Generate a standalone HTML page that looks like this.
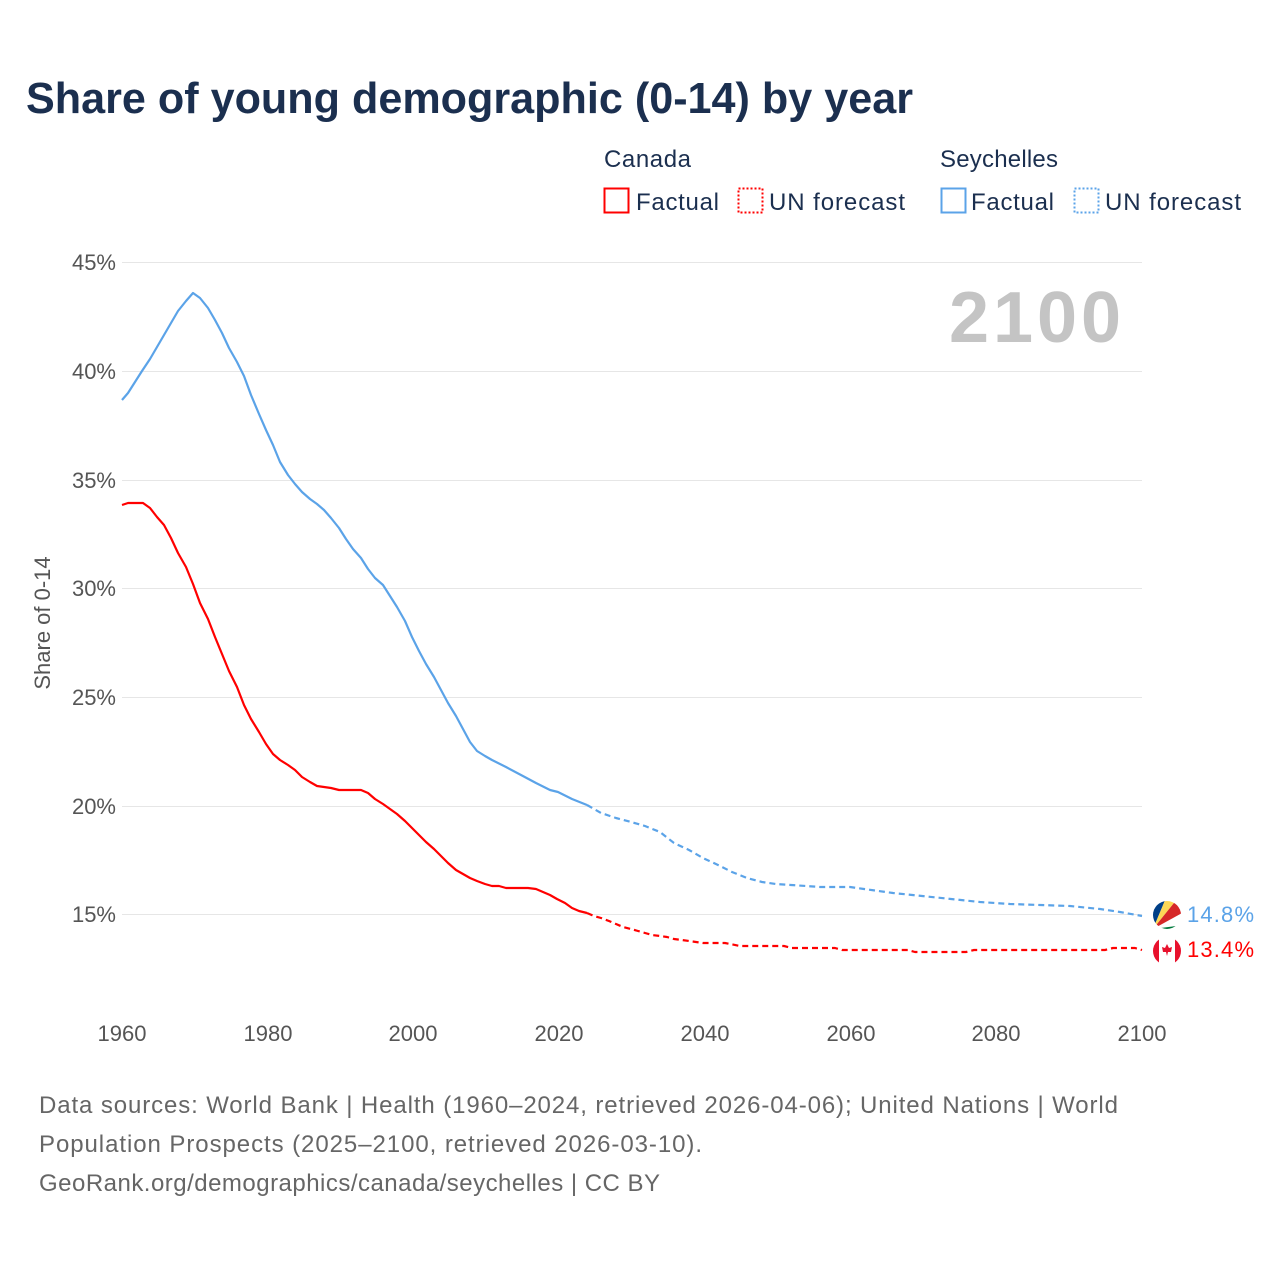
<!DOCTYPE html>
<html><head><meta charset="utf-8"><style>
body{margin:0;background:#fff;font-family:"Liberation Sans",sans-serif;}
</style></head><body>
<svg width="1280" height="1280" xmlns="http://www.w3.org/2000/svg" font-family="Liberation Sans, sans-serif">
<rect width="1280" height="1280" fill="#fff"/>
<text x="26" y="113" font-size="44" font-weight="bold" fill="#1b2f4f" textLength="887" lengthAdjust="spacingAndGlyphs">Share of young demographic (0-14) by year</text>
<g font-size="24" fill="#1b2f4f">
<text x="604" y="167" textLength="87">Canada</text>
<text x="940" y="167" textLength="118">Seychelles</text>
<rect x="604.5" y="188.5" width="24" height="24" fill="none" stroke="#f00" stroke-width="2"/>
<text x="636" y="210" textLength="83">Factual</text>
<rect x="738.5" y="188.5" width="24" height="24" fill="none" stroke="#f00" stroke-width="2" stroke-dasharray="2,2"/>
<text x="769" y="210" textLength="136">UN forecast</text>
<rect x="941.5" y="188.5" width="24" height="24" fill="none" stroke="#5ba3e8" stroke-width="2"/>
<text x="971" y="210" textLength="83">Factual</text>
<rect x="1074.5" y="188.5" width="24" height="24" fill="none" stroke="#5ba3e8" stroke-width="2" stroke-dasharray="2,2"/>
<text x="1105" y="210" textLength="136">UN forecast</text>
</g>
<g stroke="#e6e6e6" stroke-width="1">
<line x1="122" x2="1142" y1="262.5" y2="262.5"/><line x1="122" x2="1142" y1="371.5" y2="371.5"/>
<line x1="122" x2="1142" y1="480.5" y2="480.5"/><line x1="122" x2="1142" y1="588.5" y2="588.5"/>
<line x1="122" x2="1142" y1="697.5" y2="697.5"/><line x1="122" x2="1142" y1="806.5" y2="806.5"/>
<line x1="122" x2="1142" y1="914.5" y2="914.5"/>
</g>
<g font-size="22" fill="#555" text-anchor="end">
<text x="116" y="270">45%</text><text x="116" y="379">40%</text><text x="116" y="488">35%</text>
<text x="116" y="596">30%</text><text x="116" y="705">25%</text><text x="116" y="814">20%</text><text x="116" y="922">15%</text>
</g>
<text transform="translate(50,623) rotate(-90)" font-size="22" fill="#555" text-anchor="middle">Share of 0-14</text>
<g font-size="22" fill="#555" text-anchor="middle">
<text x="122" y="1041">1960</text><text x="268" y="1041">1980</text><text x="413" y="1041">2000</text>
<text x="559" y="1041">2020</text><text x="705" y="1041">2040</text><text x="851" y="1041">2060</text>
<text x="996" y="1041">2080</text><text x="1142" y="1041">2100</text>
</g>
<text x="1121" y="342" font-size="72" font-weight="bold" fill="#c4c4c4" text-anchor="end" textLength="172">2100</text>
<g fill="none" stroke-width="2.2" stroke-linejoin="round">
<polyline stroke="#5ba3e8" points="122,400 128,393 135,382 142,371 150,359 157,347 164,335 171,323 178,311 186,301 193,293 200,298 208,308 215,320 222,333 229,348 237,362 244,376 251,395 259,414 266,430 273,445 280,462 288,475 295,484 302,492 310,499 317,504 324,510 331,518 339,528 346,539 353,549 361,558 368,569 375,578 383,585 390,596 397,607 405,621 412,637 419,651 426,664 434,677 441,690 448,703 456,716 463,729 470,742 477,751 485,756 492,760 506,767 521,775 536,783 550,790 558,792 572,799 587,805"/>
<polyline stroke="#5ba3e8" stroke-dasharray="6,4" points="587,805 601,813 616,818 631,822 645,826 660,832 674,843 689,850 703,858 718,865 732,872 747,878 762,882 776,884 791,885 806,886 820,887 850,887 864,889 893,893 922,896 951,899 980,902 1010,904 1040,905 1070,906 1100,909 1120,912 1142,916"/>
<polyline stroke="#f00" points="122,505 128,503 143,503 150,508 157,517 164,525 171,538 178,553 186,567 193,584 200,603 208,619 215,637 222,654 229,671 237,687 244,705 251,719 259,732 266,744 273,754 280,760 288,765 295,770 302,777 310,782 317,786 324,787 331,788 339,790 346,790 361,790 368,793 375,799 383,804 390,809 397,814 405,821 412,828 419,835 426,842 434,849 441,856 448,863 456,870 463,874 470,878 477,881 485,884 492,886 499,886 506,888 514,888 528,888 536,889 543,892 550,895 557,899 565,903 572,908 579,911 587,913"/>
<polyline stroke="#f00" stroke-dasharray="6,4" points="587,913 594,916 601,918 609,921 616,924 623,927 631,929 638,931 645,933 652,935 660,936 667,937 674,939 682,940 689,941 696,942 703,943 725,943 740,946 784,946 792,948 835,948 842,950 908,950 915,952 966,952 974,950 1105,950 1113,948 1135,948 1142,950"/>
</g>
<clipPath id="c1"><circle cx="1167" cy="915" r="14"/></clipPath>
<g clip-path="url(#c1)">
<rect x="1150" y="898" width="34" height="34" fill="#fff"/>
<polygon points="1153,929 1153,898 1166,898" fill="#003f87"/>
<polygon points="1153,929 1166,898 1178,898" fill="#fcd856"/>
<polygon points="1153,929 1178,898 1184,898 1184,912" fill="#d62828"/>
<polygon points="1153,929 1184,918 1184,925" fill="#fff"/>
<polygon points="1153,929 1184,925 1184,932" fill="#007a3d"/>
</g>
<clipPath id="c2"><circle cx="1167" cy="951" r="14"/></clipPath>
<g clip-path="url(#c2)">
<rect x="1150" y="934" width="34" height="34" fill="#fff"/>
<rect x="1150" y="934" width="9" height="34" fill="#e8112d"/>
<rect x="1175" y="934" width="9" height="34" fill="#e8112d"/>
<polygon points="1167,944 1169,948 1172,947 1171,952 1168,952 1167,956 1166,952 1163,952 1162,947 1165,948" fill="#e8112d"/>
</g>
<text x="1187" y="922" font-size="22" fill="#5ba3e8" textLength="67">14.8%</text>
<text x="1187" y="957" font-size="22" fill="#f00" textLength="67">13.4%</text>
<g font-size="24" fill="#666">
<text x="39" y="1113" textLength="1079">Data sources: World Bank | Health (1960–2024, retrieved 2026-04-06); United Nations | World</text>
<text x="39" y="1152" textLength="663">Population Prospects (2025–2100, retrieved 2026-03-10).</text>
<text x="39" y="1191" textLength="621">GeoRank.org/demographics/canada/seychelles | CC BY</text>
</g>
</svg>
</body></html>
